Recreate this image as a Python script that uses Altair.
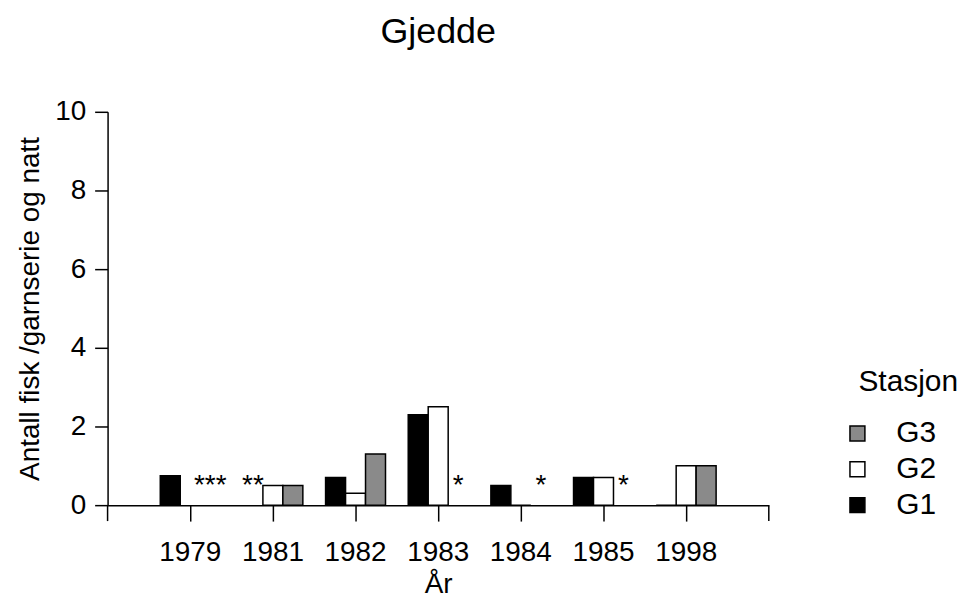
import altair as alt
import pandas as pd

years = ["1979", "1981", "1982", "1983", "1984", "1985", "1998"]
stations = ["G1", "G2", "G3"]
g1 = [0.75, None, 0.7, 2.3, 0.5, 0.7, 0.0]
g2 = [None, 0.5, 0.3, 2.5, 0.0, 0.7, 1.0]
g3 = [None, 0.5, 1.3, None, None, None, 1.0]

star_years = ["1979", "1981", "1983", "1984", "1985"]
star_station = ["G3", "G1", "G3", "G3", "G3"]
star_text = ["***", "**", "*", "*", "*"]

legend_title_text = ["Stasjon"]

rows = []
for st, vals in zip(stations, [g1, g2, g3]):
    for y, v in zip(years, vals):
        if v is not None:
            rows.append({"year": y, "station": st, "value": v})
df = pd.DataFrame(rows)
stars = pd.DataFrame({"year": star_years, "station": star_station, "text": star_text, "zero": [0] * len(star_years)})
one = pd.DataFrame({"t": legend_title_text})

FONT = "Liberation Sans"
W, H = 664, 395

xenc = alt.X("year:N", sort=years,
             scale=alt.Scale(domain=years, paddingInner=0.275, paddingOuter=0.6375),
             axis=alt.Axis(title="År", labelAngle=0, tickSize=16, tickWidth=1.5, tickColor="black",
                           domainColor="black", domainWidth=1.5, labelFontSize=28, titleFontSize=28,
                           labelFont=FONT, titleFont=FONT, titleFontWeight="normal", labelColor="black",
                           titleColor="black", labelPadding=18, titlePadding=4))
xoff = alt.XOffset("station:N", scale=alt.Scale(domain=stations, paddingInner=0, paddingOuter=0))
yenc = alt.Y("value:Q", scale=alt.Scale(domain=[0, 10], nice=False),
             axis=alt.Axis(title="Antall fisk /garnserie og natt", values=[0, 2, 4, 6, 8, 10], grid=False,
                           tickSize=13, tickWidth=1.5, tickColor="black", domainColor="black",
                           domainWidth=1.5, labelFontSize=28, titleFontSize=28, labelFont=FONT,
                           titleFont=FONT, titleFontWeight="normal", labelColor="black",
                           titleColor="black", labelPadding=9, titlePadding=10))

bars = alt.Chart(df).mark_bar(stroke="black", strokeWidth=1.5).encode(
    x=xenc,
    xOffset=xoff,
    y=yenc,
    color=alt.Color("station:N",
                    scale=alt.Scale(domain=["G3", "G2", "G1"], range=["#8a8a8a", "white", "black"]),
                    legend=alt.Legend(title=None, orient="none", legendX=738, legendY=308,
                                      symbolType="square", symbolSize=225, symbolStrokeColor="black",
                                      symbolStrokeWidth=1.5, labelFontSize=30,
                                      labelFont=FONT, labelColor="black", rowPadding=6,
                                      labelOffset=24)),
)

legend_title = alt.Chart(one).mark_text(font=FONT, fontSize=30, align="left", baseline="middle",
                                        color="black").encode(
    x=alt.value(754), y=alt.value(271), text="t:N")

star_layer = alt.Chart(stars).mark_text(font=FONT, fontSize=28, baseline="alphabetic", dy=-11, color="black").encode(
    x=alt.X("year:N", sort=years),
    xOffset=alt.XOffset("station:N", scale=alt.Scale(domain=stations)),
    y=alt.Y("zero:Q"),
    text="text:N",
)

end_left = alt.Chart(one).mark_rule(color="black", strokeWidth=1.5).encode(
    x=alt.value(0), y=alt.value(H), y2=alt.value(H + 16))
end_right = alt.Chart(one).mark_rule(color="black", strokeWidth=1.5).encode(
    x=alt.value(W), y=alt.value(H), y2=alt.value(H + 16))

chart = alt.layer(bars, star_layer, end_left, end_right, legend_title).properties(
    width=W, height=H,
    title=alt.TitleParams("Gjedde", fontSize=36, font=FONT, fontWeight="normal", anchor="middle",
                          offset=47, frame="group", color="black"),
    autosize=alt.AutoSizeParams(type="none"),
    padding={"left": 100, "top": 103, "right": 192, "bottom": 92},
).configure_view(strokeWidth=0)

chart.save("out.html", embed_options={"renderer": "svg", "actions": False})
